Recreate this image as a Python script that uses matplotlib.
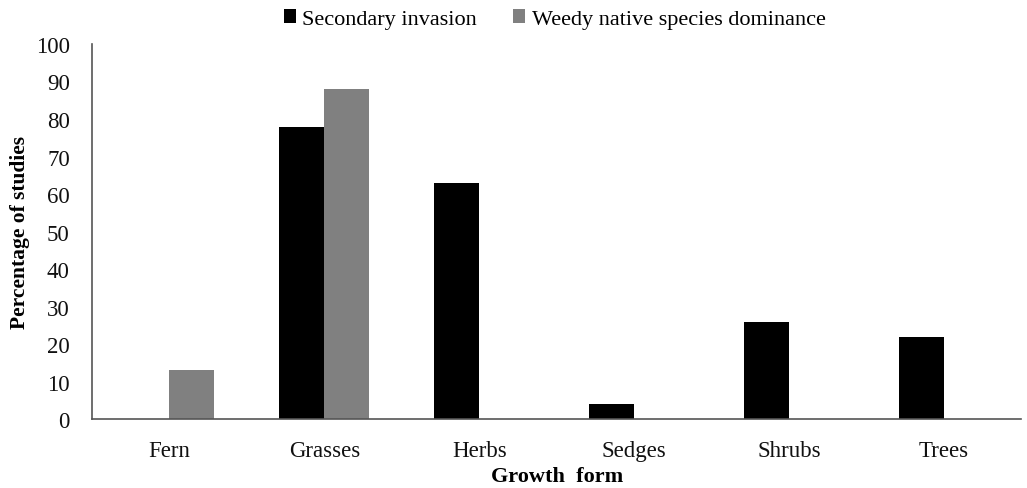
import matplotlib.pyplot as plt
import numpy as np

plt.rcParams['font.family'] = ['Liberation Serif', 'DejaVu Serif']

# Data
forms = ['Fern', 'Grasses', 'Herbs', 'Sedges', 'Shrubs', 'Trees']
secondary = [0, 78, 63, 4, 26, 22]
weedy = [13, 88, 0, 0, 0, 0]

fig = plt.figure(figsize=(10.27, 4.89), dpi=100)
ax = fig.add_axes([0.0896, 0.141, 0.905, 0.767])

x = np.arange(len(forms))
w = 0.29
ax.bar(x - w / 2, secondary, w, color='black', label='Secondary invasion')
ax.bar(x + w / 2, weedy, w, color='#808080', label='Weedy native species dominance')

ax.set_xlim(-0.5, len(forms) - 0.5)
ax.set_ylim(0, 100)
ax.set_yticks(range(0, 101, 10))
ax.set_xticks(x)
ax.set_xticklabels(forms)
ax.tick_params(axis='both', length=0, labelsize=16.5, colors='#111111')
ax.tick_params(axis='x', pad=15)
ax.tick_params(axis='y', pad=16)

for s in ['top', 'right']:
    ax.spines[s].set_visible(False)
for s in ['left', 'bottom']:
    ax.spines[s].set_color('#555555')
    ax.spines[s].set_linewidth(1.2)

ax.set_xlabel('Growth  form', fontsize=16, fontweight='bold', labelpad=4)
ax.set_ylabel('Percentage of studies', fontsize=15.5, fontweight='bold', labelpad=4)

fig.legend(loc='upper center', bbox_to_anchor=(0.54, 1.02), ncol=2, frameon=False,
           fontsize=16, handlelength=0.55, handleheight=0.55, handletextpad=0.3,
           columnspacing=1.6)

plt.savefig('out.png', dpi=100)
